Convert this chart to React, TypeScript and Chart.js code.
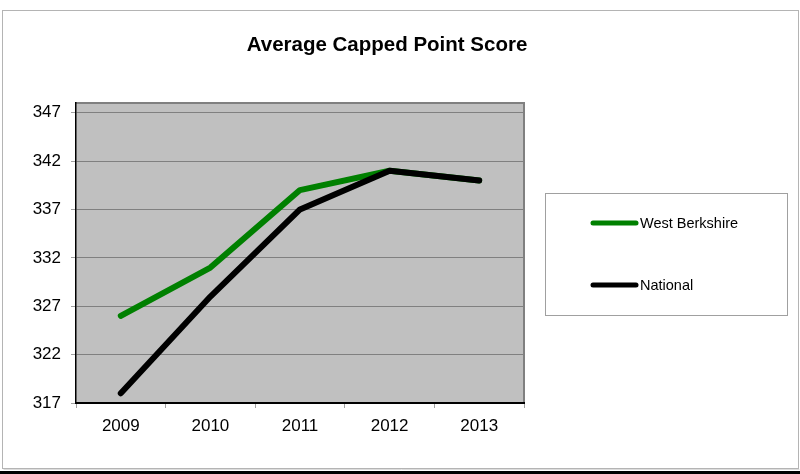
import React, { useEffect, useRef } from "react";
import { Chart, registerables } from "chart.js";

Chart.register(...registerables);

const title = "Average Capped Point Score";
const categories = ["2009", "2010", "2011", "2012", "2013"];
const westBerkshire = [326, 331, 339, 341, 340];
const national = [318, 328, 337, 341, 340];
const yTicks = [317, 322, 327, 332, 337, 342, 347];
const yMin = 317;
const yMax = 348;

const FONT = "'Liberation Sans', Arial, sans-serif";

const framePlugin = {
  id: "frame",
  beforeDraw(chart: any) {
    const { ctx, width, height, chartArea } = chart;
    ctx.save();
    ctx.fillStyle = "#ffffff";
    ctx.fillRect(0, 0, width, height);
    // outer frame
    ctx.strokeStyle = "#b4b4b4";
    ctx.lineWidth = 1;
    ctx.strokeRect(2.5, 10.5, 796, 458);
    ctx.strokeStyle = "#dcdcdc";
    ctx.beginPath();
    ctx.moveTo(3.5, 469.5);
    ctx.lineTo(799.5, 469.5);
    ctx.stroke();
    ctx.fillStyle = "#000000";
    ctx.fillRect(0, 471, width, 3);
    // plot background
    ctx.fillStyle = "#c0c0c0";
    ctx.fillRect(chartArea.left, chartArea.top, chartArea.right - chartArea.left, chartArea.bottom - chartArea.top);
    ctx.strokeStyle = "#808080";
    ctx.lineWidth = 2;
    ctx.beginPath();
    ctx.moveTo(chartArea.left, chartArea.top);
    ctx.lineTo(chartArea.right, chartArea.top);
    ctx.lineTo(chartArea.right, chartArea.bottom);
    ctx.stroke();
    // title
    ctx.fillStyle = "#000000";
    ctx.font = `bold 20.5px ${FONT}`;
    ctx.textAlign = "center";
    ctx.textBaseline = "middle";
    ctx.fillText(title, 387, 45);
    ctx.restore();
  },
  afterDraw(chart: any) {
    const { ctx } = chart;
    ctx.save();
    ctx.strokeStyle = "#a0a0a0";
    ctx.lineWidth = 1;
    ctx.strokeRect(545.5, 193.5, 242, 122);
    const ys = [223, 285];
    chart.data.datasets.forEach((ds: any, i: number) => {
      const y = ys[i];
      ctx.strokeStyle = ds.borderColor;
      ctx.lineWidth = 5;
      ctx.lineCap = "round";
      ctx.beginPath();
      ctx.moveTo(593, y);
      ctx.lineTo(636, y);
      ctx.stroke();
      ctx.fillStyle = "#000000";
      ctx.font = `14.5px ${FONT}`;
      ctx.textAlign = "left";
      ctx.textBaseline = "middle";
      ctx.fillText(ds.label, 640, y + 1);
    });
    ctx.restore();
  },
};

export default function App() {
  const ref = useRef<HTMLCanvasElement | null>(null);
  useEffect(() => {
    if (!ref.current) return;
    const chart = new Chart(ref.current, {
      type: "line",
      data: {
        labels: categories,
        datasets: [
          {
            label: "West Berkshire",
            data: westBerkshire,
            borderColor: "#008000",
            backgroundColor: "#008000",
            borderWidth: 6,
            pointRadius: 0,
            borderCapStyle: "round",
            borderJoinStyle: "round",
            tension: 0,
            order: 1,
          },
          {
            label: "National",
            data: national,
            borderColor: "#000000",
            backgroundColor: "#000000",
            borderWidth: 6,
            pointRadius: 0,
            borderCapStyle: "round",
            borderJoinStyle: "round",
            tension: 0,
            order: 0,
          },
        ],
      },
      options: {
        responsive: false,
        animation: false,
        layout: { padding: { left: 0, top: 103, right: 276, bottom: 0 } },
        plugins: {
          legend: { display: false },
          title: { display: false },
          tooltip: { enabled: false },
        },
        scales: {
          x: {
            offset: true,
            grid: {
              offset: true,
              drawOnChartArea: false,
              drawTicks: true,
              tickLength: 5,
              color: "#a0a0a0",
            },
            border: { color: "#000000", width: 2 },
            ticks: {
              color: "#000000",
              font: { family: FONT, size: 17 },
              padding: 8,
              maxRotation: 0,
            },
            afterFit(scale: any) {
              scale.height = 71;
            },
          },
          y: {
            min: yMin,
            max: yMax,
            grid: {
              color: "#808080",
              lineWidth: 1,
              drawTicks: true,
              tickLength: 5,
              tickColor: "#a0a0a0",
            },
            border: { color: "#000000", width: 1.5 },
            ticks: {
              color: "#000000",
              font: { family: FONT, size: 17 },
              padding: 10,
            },
            afterBuildTicks(scale: any) {
              scale.ticks = yTicks.map((v) => ({ value: v }));
            },
            afterFit(scale: any) {
              scale.width = 76;
            },
          },
        },
      },
      plugins: [framePlugin],
    });
    return () => chart.destroy();
  }, []);
  return (
    <div style={{ position: "fixed", left: 0, top: 0, width: 800, height: 474 }}>
      <canvas ref={ref} width={800} height={474} />
    </div>
  );
}
